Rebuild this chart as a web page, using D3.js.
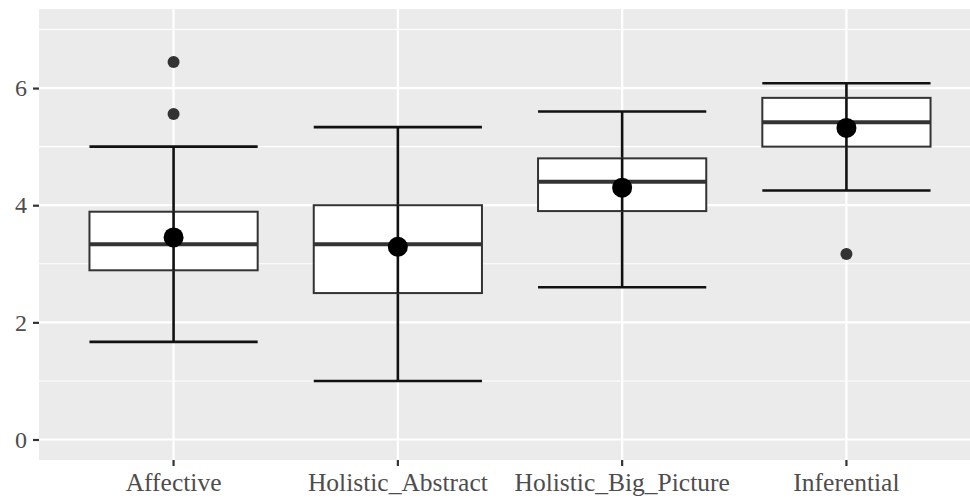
<!DOCTYPE html>
<html lang="en">
<head>
<meta charset="utf-8">
<title>boxplot</title>
<script src="https://cdn.jsdelivr.net/npm/d3@7"></script>
<style>
  body { margin: 0; background: #fff; }
  text { font-family: "Liberation Serif", "DejaVu Serif", serif; }
</style>
</head>
<body>
<script type="text/javascript">

// categories and box stats
var categories = ["Affective", "Holistic_Abstract", "Holistic_Big_Picture", "Inferential"];
var whiskerLow  = [1.667, 1.0,   2.6, 4.25];
var q1          = [2.889, 2.5,   3.9, 5.0];
var median      = [3.333, 3.333, 4.4, 5.417];
var q3          = [3.889, 4.0,   4.8, 5.833];
var whiskerHigh = [5.0,   5.333, 5.6, 6.083];
var means       = [3.45,  3.29,  4.30, 5.32];
var outliers    = [[5.556, 6.444], [], [], [3.167]];
var yTicks = [0, 2, 4, 6];
var yMinor = [1, 3, 5, 7];

var width = 970;
var height = 498;
var pLeft = 39, pTop = 9, pRight = 981, pBottom = 460;

var svg = d3.select("body").append("svg")
            .attr("width", width)
            .attr("height", height);

var x = d3.scaleBand()
          .domain(categories)
          .range([pLeft, pRight])
          .paddingInner(0)
          .paddingOuter(0.1);

var y = d3.scaleLinear()
          .domain([-0.35, 7.35])
          .range([pBottom, pTop]);

var cx = function(c) { return x(c) + x.bandwidth() / 2; };
var half = x.bandwidth() * 0.75 / 2;

// panel
svg.append("rect")
   .attr("x", pLeft).attr("y", pTop)
   .attr("width", pRight - pLeft).attr("height", pBottom - pTop)
   .attr("fill", "#ebebeb");

// grid
svg.selectAll(".minor").data(yMinor).enter().append("line")
   .attr("x1", pLeft).attr("x2", pRight)
   .attr("y1", function(d) { return y(d); }).attr("y2", function(d) { return y(d); })
   .attr("stroke", "#fff").attr("stroke-width", 1.1);
svg.selectAll(".major").data(yTicks).enter().append("line")
   .attr("x1", pLeft).attr("x2", pRight)
   .attr("y1", function(d) { return y(d); }).attr("y2", function(d) { return y(d); })
   .attr("stroke", "#fff").attr("stroke-width", 2.2);
svg.selectAll(".vgrid").data(categories).enter().append("line")
   .attr("x1", cx).attr("x2", cx)
   .attr("y1", pTop).attr("y2", pBottom)
   .attr("stroke", "#fff").attr("stroke-width", 2.2);

// axes
var yAxis = svg.append("g")
   .attr("transform", "translate(" + pLeft + ",0)")
   .call(d3.axisLeft(y).tickValues(yTicks).tickSize(6).tickPadding(6));
var xAxis = svg.append("g")
   .attr("transform", "translate(0," + pBottom + ")")
   .call(d3.axisBottom(x).tickSize(6).tickPadding(7));
[yAxis, xAxis].forEach(function(g) {
  g.select(".domain").remove();
  g.selectAll(".tick line").attr("stroke", "#333").attr("stroke-width", 2.2);
  g.selectAll(".tick text").attr("fill", "#4d4d4d")
   .style("font-family", "'Liberation Serif', serif");
});
yAxis.selectAll(".tick text").attr("font-size", 24);
xAxis.selectAll(".tick text").attr("font-size", 25.5);

var data = categories.map(function(c, i) {
  return { cat: c, lo: whiskerLow[i], q1: q1[i], med: median[i], q3: q3[i],
           hi: whiskerHigh[i], mean: means[i], out: outliers[i] };
});

var g = svg.selectAll(".box").data(data).enter().append("g");

// error bar whiskers
g.append("line")
 .attr("x1", function(d) { return cx(d.cat); }).attr("x2", function(d) { return cx(d.cat); })
 .attr("y1", function(d) { return y(d.lo); }).attr("y2", function(d) { return y(d.hi); })
 .attr("stroke", "#111").attr("stroke-width", 2.6);
g.append("line")
 .attr("x1", function(d) { return cx(d.cat) - half; }).attr("x2", function(d) { return cx(d.cat) + half; })
 .attr("y1", function(d) { return y(d.lo); }).attr("y2", function(d) { return y(d.lo); })
 .attr("stroke", "#111").attr("stroke-width", 2.6);
g.append("line")
 .attr("x1", function(d) { return cx(d.cat) - half; }).attr("x2", function(d) { return cx(d.cat) + half; })
 .attr("y1", function(d) { return y(d.hi); }).attr("y2", function(d) { return y(d.hi); })
 .attr("stroke", "#111").attr("stroke-width", 2.6);

// box
g.append("rect")
 .attr("x", function(d) { return cx(d.cat) - half; })
 .attr("y", function(d) { return y(d.q3); })
 .attr("width", half * 2)
 .attr("height", function(d) { return y(d.q1) - y(d.q3); })
 .attr("fill", "#fff").attr("stroke", "#333").attr("stroke-width", 2);
// whisker through box
g.append("line")
 .attr("x1", function(d) { return cx(d.cat); }).attr("x2", function(d) { return cx(d.cat); })
 .attr("y1", function(d) { return y(d.q1); }).attr("y2", function(d) { return y(d.q3); })
 .attr("stroke", "#111").attr("stroke-width", 2.6);
// median
g.append("line")
 .attr("x1", function(d) { return cx(d.cat) - half; }).attr("x2", function(d) { return cx(d.cat) + half; })
 .attr("y1", function(d) { return y(d.med); }).attr("y2", function(d) { return y(d.med); })
 .attr("stroke", "#333").attr("stroke-width", 4);

// outliers
g.selectAll(".out").data(function(d) { return d.out.map(function(v) { return { cat: d.cat, v: v }; }); })
 .enter().append("circle")
 .attr("cx", function(d) { return cx(d.cat); })
 .attr("cy", function(d) { return y(d.v); })
 .attr("r", 6).attr("fill", "#333");

// means
g.append("circle")
 .attr("cx", function(d) { return cx(d.cat); })
 .attr("cy", function(d) { return y(d.mean); })
 .attr("r", 10).attr("fill", "#000");

</script>
</body>
</html>
